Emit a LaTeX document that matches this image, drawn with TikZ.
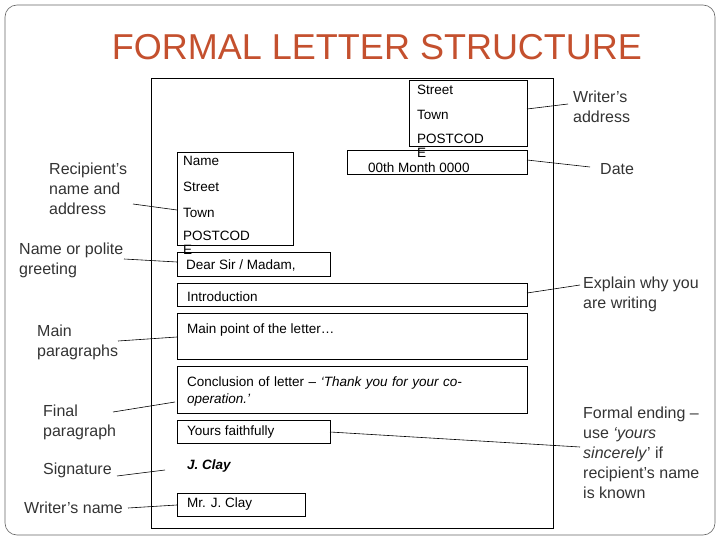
\documentclass[tikz,border=0pt]{standalone}
\usepackage{fontspec}
\setmainfont{Liberation Sans}
\begin{document}
\begin{tikzpicture}[x=1pt,y=-1pt,
  bx/.style={draw,line width=0.6pt},
  tx/.style={anchor=west,inner sep=0pt,font=\fontsize{13.5}{17}\selectfont},
  lb/.style={anchor=north west,inner sep=0pt,align=left,font=\fontsize{16}{20}\selectfont,text=black!80},
  ln/.style={line width=0.6pt}]
\useasboundingbox (0,0) rectangle (720,540);
\draw[rounded corners=12pt,line width=0.6pt,black!60] (5,5) rectangle (715,535);
\node (title) at (377,47) {\fontsize{36}{40}\selectfont\color[HTML]{C4502E}FORMAL LETTER STRUCTURE};
\draw[ln] (151,78) rectangle (553,528);
% boxes
\draw[bx] (409,80) rectangle (527,146);
\node[tx] (s1) at (417,90) {Street};
\node[tx] (t1) at (417,115) {Town};
\node[tx,align=left,anchor=north west] (p1) at (417,134) {POSTCOD\\[-3pt]E};
\draw[bx] (347,150) rectangle (527,174);
\node[tx] (dt) at (368,168) {00th Month 0000};
\draw[bx] (177,152) rectangle (293,245);
\node[tx] (n2) at (183,161) {Name};
\node[tx] (s2) at (183,187) {Street};
\node[tx] (t2) at (183,213) {Town};
\node[tx,align=left,anchor=north west] (p2) at (183,231) {POSTCOD\\[-3pt]E};
\draw[bx] (177,252) rectangle (330,276);
\node[tx] (gr) at (186,265) {Dear Sir / Madam,};
\draw[bx] (177,283) rectangle (527,306);
\node[tx] (in) at (187,297) {Introduction};
\draw[bx] (177,313) rectangle (527,359);
\node[tx] (mp) at (187,330) {Main point of the letter\dots};
\draw[bx] (177,366) rectangle (527,413);
\node[tx,anchor=north west,align=left,text width=290pt] (cc) at (187,377) {Conclusion of letter -- \textit{`Thank you for your co-operation.'}};
\draw[bx] (177,420) rectangle (330,443);
\node[tx] (yf) at (187,432) {Yours faithfully};
\node[tx] (sig) at (187,466) {\textit{\textbf{J. Clay}}};
\draw[bx] (177,493) rectangle (305,516);
\node[tx] (nm) at (187,504) {Mr. J. Clay};
% left labels
\node[lb] (l1) at (49,163) {Recipient's\\name and\\address};
\node[lb] (l2) at (19,243) {Name or polite\\greeting};
\node[lb] (l3) at (37,325) {Main\\paragraphs};
\node[lb] (l4) at (43,405) {Final\\paragraph};
\node[lb] (l5) at (43,463) {Signature};
\node[lb] (l6) at (24,502) {Writer's name};
% right labels
\node[lb] (r1) at (573,91) {Writer's\\address};
\node[lb] (r2) at (600,163) {Date};
\node[lb] (r3) at (583,277) {Explain why you\\are writing};
\node[lb] (r4) at (583,407) {Formal ending --\\use \textit{`yours}\\\textit{sincerely}' if\\recipient's name\\is known};
% connectors
\coordinate (a1) at (133,204); \coordinate (b1) at (177,210); \draw[ln] (a1)--(b1);
\coordinate (a2) at (124,259); \coordinate (b2) at (177,262); \draw[ln] (a2)--(b2);
\coordinate (a3) at (118,341); \coordinate (b3) at (177,337); \draw[ln] (a3)--(b3);
\coordinate (a4) at (113,412); \coordinate (b4) at (175,402); \draw[ln] (a4)--(b4);
\coordinate (a5) at (117,476); \coordinate (b5) at (165,470); \draw[ln] (a5)--(b5);
\coordinate (a6) at (128,508); \coordinate (b6) at (177,505); \draw[ln] (a6)--(b6);
\coordinate (c1) at (527,109); \coordinate (d1) at (568,104); \draw[ln] (c1)--(d1);
\coordinate (c2) at (527,160); \coordinate (d2) at (590,167); \draw[ln] (c2)--(d2);
\coordinate (c3) at (527,293); \coordinate (d3) at (580,285); \draw[ln] (c3)--(d3);
\coordinate (c4) at (330,432); \coordinate (d4) at (580,447); \draw[ln] (c4)--(d4);
\end{tikzpicture}
\end{document}
